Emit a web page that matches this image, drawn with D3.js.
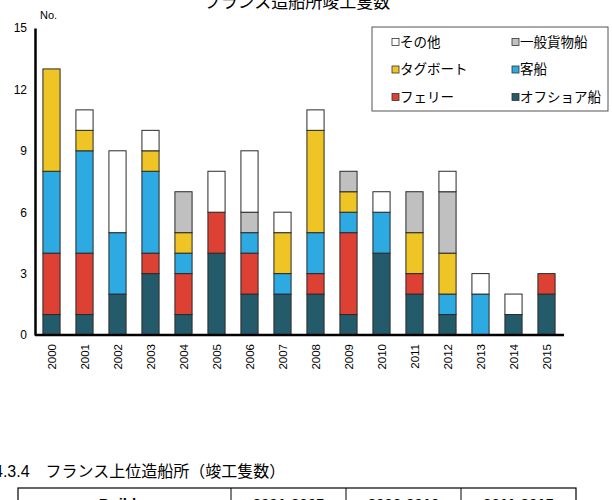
<!DOCTYPE html>
<html><head><meta charset="utf-8">
<script src="https://cdn.jsdelivr.net/npm/d3@7"></script>
<style>body{margin:0;background:#fff;} svg{display:block;}</style>
</head><body>
<svg id="c" width="612" height="500"></svg>
<script>
const years = ["2000","2001","2002","2003","2004","2005","2006","2007","2008","2009","2010","2011","2012","2013","2014","2015"];
const offshore = [1,1,2,3,1,4,2,2,2,1,4,2,1,0,1,2];
const ferry    = [3,3,0,1,2,2,2,0,1,4,0,1,0,0,0,1];
const passenger= [4,5,3,4,1,0,1,1,2,1,2,0,1,2,0,0];
const tug      = [5,1,0,1,1,0,0,2,5,1,0,2,2,0,0,0];
const cargo    = [0,0,0,0,2,0,1,0,0,1,0,2,3,0,0,0];
const other    = [0,1,4,1,0,2,3,1,1,0,1,0,1,1,1,0];
const seriesNames = ["オフショア船","フェリー","客船","タグボート","一般貨物船","その他"];
const seriesColors = ["#245b6b","#dc4133","#2eaae2","#efc526","#c0c0c0","#ffffff"];
const yTicks = [0,3,6,9,12,15];
const tableHeaders = ["Builder","2001-2005","2006-2010","2011-2015"];

const seriesVals = [offshore,ferry,passenger,tug,cargo,other];
const rows = years.map((y,i)=>{const r={year:y}; seriesNames.forEach((s,k)=>r[s]=seriesVals[k][i]); return r;});
const stack = d3.stack().keys(seriesNames)(rows);

const svg = d3.select("#c");
const font = "Arial, 'Liberation Sans', 'Noto Sans CJK JP', sans-serif";
const x = d3.scaleBand().domain(years).range([35,563]).paddingInner(0.48).paddingOuter(0.24);
const y = d3.scaleLinear().domain([0,15]).range([335,28]);

// title (cut at top, as in the reference)
svg.append("text").attr("x",297).attr("y",8).attr("text-anchor","middle")
  .attr("font-family",font).attr("font-size",17).text("フランス造船所竣工隻数");

// bars
const g = svg.append("g");
stack.forEach((layer,k)=>{
  g.selectAll(null).data(layer.filter(d=>d[1]-d[0]>0)).enter().append("rect")
   .attr("x",d=>x(d.data.year)).attr("width",x.bandwidth())
   .attr("y",d=>y(d[1])).attr("height",d=>y(d[0])-y(d[1]))
   .attr("fill",seriesColors[k]).attr("stroke","#2a2a2a").attr("stroke-width",1);
});

// y axis
const ya = svg.append("g").attr("transform","translate(35,0)")
  .call(d3.axisLeft(y).tickValues(yTicks).tickSize(0).tickPadding(8));
ya.select(".domain").attr("stroke","#000").attr("stroke-width",2.5);
ya.selectAll("text").attr("font-family",font).attr("font-size",12).attr("fill","#000");

// x axis
const xa = svg.append("g").attr("transform","translate(0,335)")
  .call(d3.axisBottom(x).tickSize(0).tickPadding(0));
xa.select(".domain").attr("stroke","#000").attr("stroke-width",2.5).attr("d","M35,0H564");
xa.selectAll("text").attr("font-family",font).attr("font-size",11.5).attr("fill","#000")
  .attr("transform","rotate(-90)").attr("text-anchor","end").attr("dy","0.35em").attr("x",-9).attr("y",0);

svg.append("text").attr("x",40).attr("y",19).attr("font-family",font).attr("font-size",11).text("No.");

// legend
const lg = svg.append("g");
lg.append("rect").attr("x",372).attr("y",27).attr("width",236).attr("height",84)
  .attr("fill","#fff").attr("stroke","#555").attr("stroke-width",1);
const legendOrder = [5,4,3,2,1,0];
legendOrder.forEach((k,i)=>{
  const col = i%2, row = Math.floor(i/2);
  const lx = 392 + col*120, ly = 42 + row*27.5;
  lg.append("rect").attr("x",lx).attr("y",ly-3.5).attr("width",7).attr("height",7)
    .attr("fill",seriesColors[k]).attr("stroke","#333").attr("stroke-width",0.8);
  lg.append("text").attr("x",lx+8).attr("y",ly).attr("dy","0.36em")
    .attr("font-family",font).attr("font-size",13.5).text(seriesNames[k]);
});

// caption
svg.append("text").attr("x",-6).attr("y",477).attr("font-family",font).attr("font-size",16)
  .text("4.3.4　フランス上位造船所（竣工隻数）");

// table (cut at bottom)
const colX = [18,231,346,461,576];
svg.append("rect").attr("x",18).attr("y",488).attr("width",558).attr("height",30)
  .attr("fill","none").attr("stroke","#000").attr("stroke-width",1.2);
colX.slice(1,4).forEach(cx=>svg.append("line").attr("x1",cx).attr("x2",cx).attr("y1",488).attr("y2",500).attr("stroke","#000").attr("stroke-width",1));
tableHeaders.forEach((h,i)=>{
  svg.append("text").attr("x",(colX[i]+colX[i+1])/2).attr("y",509).attr("text-anchor","middle")
    .attr("font-family",font).attr("font-weight","bold").attr("font-size",15).text(h);
});
</script>
</body></html>
